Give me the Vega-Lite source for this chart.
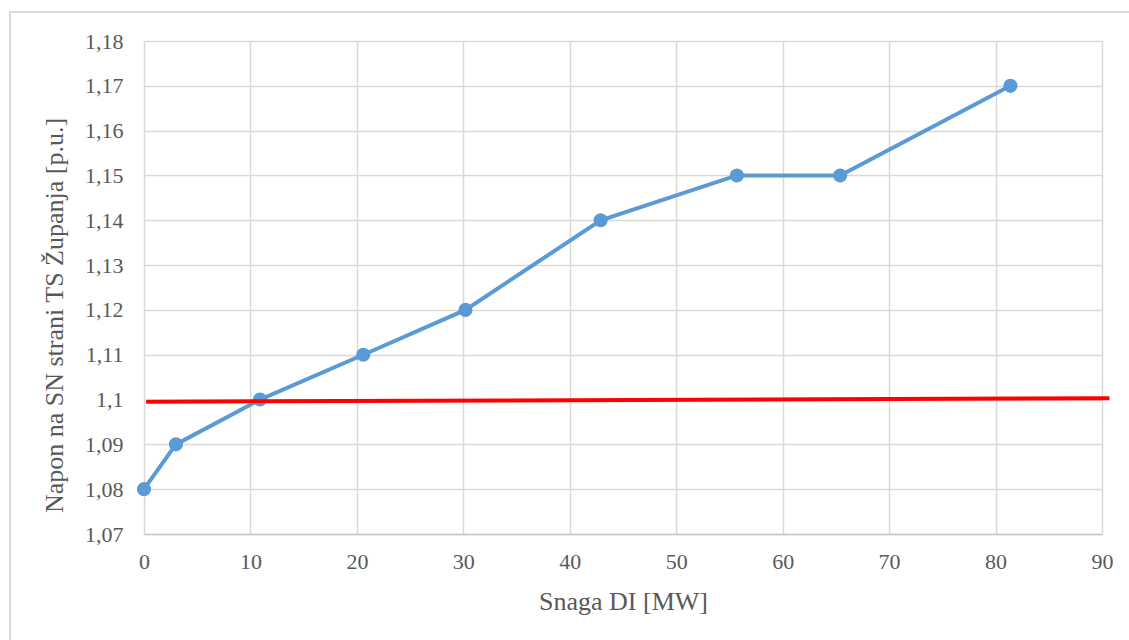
{
  "$schema": "https://vega.github.io/schema/vega-lite/v6.json",
  "width": 958,
  "height": 493,
  "autosize": {"type": "none"},
  "padding": {"left": 144, "top": 41, "right": 27, "bottom": 106},
  "background": "white",
  "data": {
    "values": [
      {"snaga": 0, "napon": 1.08},
      {"snaga": 3.0, "napon": 1.09},
      {"snaga": 10.9, "napon": 1.10},
      {"snaga": 20.6, "napon": 1.11},
      {"snaga": 30.2, "napon": 1.12},
      {"snaga": 42.9, "napon": 1.14},
      {"snaga": 55.7, "napon": 1.15},
      {"snaga": 65.4, "napon": 1.15},
      {"snaga": 81.4, "napon": 1.17}
    ]
  },
  "layer": [
    {
      "mark": {"type": "rect", "fillOpacity": 0, "stroke": "#d9d9d9", "strokeWidth": 1.5, "clip": false},
      "encoding": {
        "x": {"datum": -12.6, "type": "quantitative"},
        "x2": {"datum": 110},
        "y": {"datum": 1.1865, "type": "quantitative"},
        "y2": {"datum": 1.0}
      }
    },
    {
      "mark": {"type": "line", "color": "#5b9bd5", "strokeWidth": 4, "point": {"filled": true, "size": 200, "color": "#5b9bd5", "opacity": 1}},
      "encoding": {
        "x": {
          "field": "snaga", "type": "quantitative",
          "scale": {"domain": [0, 90], "nice": false, "zero": false},
          "axis": {
            "title": "Snaga DI [MW]",
            "values": [0, 10, 20, 30, 40, 50, 60, 70, 80, 90],
            "labelFlush": false,
            "grid": true, "gridColor": "#d9d9d9", "gridWidth": 1.5,
            "domainColor": "#c8c8c8", "domainWidth": 1.5,
            "ticks": false,
            "labelFont": "Liberation Serif", "labelFontSize": 22, "labelColor": "#595959", "labelPadding": 17,
            "titleFont": "Liberation Serif", "titleFontSize": 26, "titleFontWeight": "normal", "titleColor": "#595959", "titlePadding": 16
          }
        },
        "y": {
          "field": "napon", "type": "quantitative",
          "scale": {"domain": [1.07, 1.18], "nice": false, "zero": false},
          "axis": {
            "title": "Napon na SN strani TS Županja [p.u.]",
            "values": [1.07, 1.08, 1.09, 1.10, 1.11, 1.12, 1.13, 1.14, 1.15, 1.16, 1.17, 1.18],
            "labelExpr": "replace(format(datum.value, '.2~f'), '.', ',')",
            "labelFlush": false,
            "grid": true, "gridColor": "#d9d9d9", "gridWidth": 1.5,
            "domain": false, "ticks": false,
            "labelFont": "Liberation Serif", "labelFontSize": 22, "labelColor": "#595959", "labelPadding": 21,
            "titleFont": "Liberation Serif", "titleFontSize": 26, "titleFontWeight": "normal", "titleColor": "#595959",
            "titleY": 274, "titleX": -77
          }
        }
      }
    },
    {
      "data": {"values": [{"snaga": 0.2, "napon": 1.09952}, {"snaga": 90.7, "napon": 1.10028}]},
      "mark": {"type": "line", "color": "#ff0000", "strokeWidth": 4, "clip": false},
      "encoding": {
        "x": {"field": "snaga", "type": "quantitative"},
        "y": {"field": "napon", "type": "quantitative"}
      }
    }
  ],
  "config": {"view": {"stroke": null}}
}
